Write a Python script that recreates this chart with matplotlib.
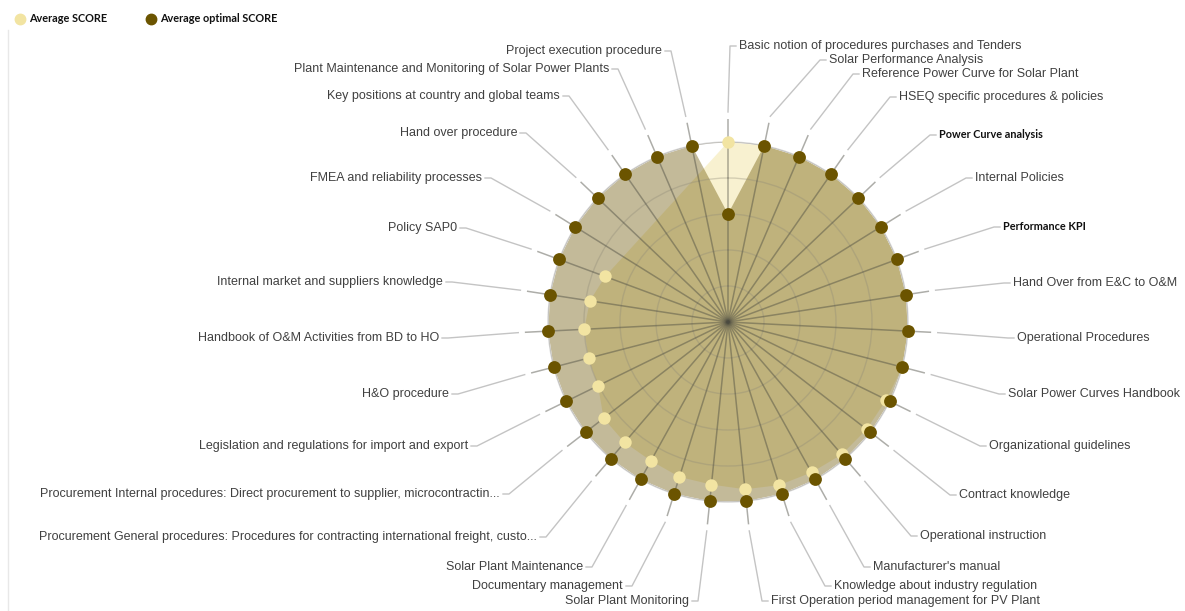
import numpy as np
import matplotlib
matplotlib.use("Agg")
import matplotlib.pyplot as plt
from matplotlib.lines import Line2D
from matplotlib.transforms import IdentityTransform

# ---------------- data ----------------
categories = [
    "Basic notion of procedures purchases and Tenders",
    "Solar Performance Analysis",
    "Reference Power Curve for Solar Plant",
    "HSEQ specific procedures & policies",
    "Power Curve analysis",
    "Internal Policies",
    "Performance KPI",
    "Hand Over from E&C to O&M",
    "Operational Procedures",
    "Solar Power Curves Handbook",
    "Organizational guidelines",
    "Contract knowledge",
    "Operational instruction",
    "Manufacturer's manual",
    "Knowledge about industry regulation",
    "First Operation period management for PV Plant",
    "Solar Plant Monitoring",
    "Documentary management",
    "Solar Plant Maintenance",
    "Procurement General procedures: Procedures for contracting international freight, custo...",
    "Procurement Internal procedures: Direct procurement to supplier, microcontractin...",
    "Legislation and regulations for import and export",
    "H&O procedure",
    "Handbook of O&M Activities from BD to HO",
    "Internal market and suppliers knowledge",
    "Policy SAP0",
    "FMEA and reliability processes",
    "Hand over procedure",
    "Key positions at country and global teams",
    "Plant Maintenance and Monitoring of Solar Power Plants",
    "Project execution procedure",
]

avg_score = [5.0, 5.0, 5.0, 5.0, 5.0, 5.0, 5.0, 5.0, 5.0, 5.0,
             4.9, 4.87, 4.85, 4.78, 4.75, 4.67, 4.54, 4.51, 4.41, 4.41,
             4.37, 4.02, 4.0, 4.0, 3.88, 3.64, None, None, None, None, None]
avg_optimal = [3.0, 5.0, 5.0, 5.0, 5.0, 5.0, 5.0, 5.0, 5.0, 5.0,
               5.0, 5.0, 5.0, 5.0, 5.0, 5.0, 5.0, 5.0, 5.0, 5.0,
               5.0, 5.0, 5.0, 5.0, 5.0, 5.0, 5.0, 5.0, 5.0, 5.0, 5.0]
series_names = ["Average SCORE", "Average optimal SCORE"]
bold_labels = ["Power Curve analysis", "Performance KPI"]

# ---------------- layout (pixels) ----------------
W, H = 1185, 611
CX, CY, R = 728, 322, 180
# label anchor: x (start for right side, end for left side), y centre (image coords)
label_pos = [
    (739, 46), (829, 60), (862, 74), (899, 97), (939, 135), (975, 178),
    (1003, 227), (1013, 283), (1017, 338), (1008, 394), (989, 446),
    (959, 495), (920, 536), (873, 567), (834, 586), (771, 601),
    (689, 601), (623, 586), (583, 567), (537, 537), (500, 494),
    (468, 446), (449, 394), (439, 338), (443, 282), (457, 228),
    (482, 178), (517, 133), (560, 96), (609, 69), (662, 51),
]

LIGHT = "#F2E4A2"
DARK = "#6B5400"
TXT = "#404040"

fig = plt.figure(figsize=(W / 100, H / 100), dpi=100)
fig.patch.set_facecolor("white")

ax = fig.add_axes([(CX - R) / W, (H - CY - R) / H, 2 * R / W, 2 * R / H],
                  projection="polar")
ax.set_theta_zero_location("N")
ax.set_theta_direction(-1)
ax.set_ylim(0, 5)
ax.set_facecolor("none")

n = len(categories)
theta = np.arange(n) * 2 * np.pi / n

ax.set_xticks(theta)
ax.set_xticklabels([])
ax.xaxis.grid(False)
ax.set_yticks([1, 2, 3, 4, 5])
ax.set_yticklabels([])
ax.yaxis.grid(True, color="#8f8a78", alpha=0.35, lw=1.0)
ax.set_axisbelow(False)
ax.spines["polar"].set_color("#d6d6d6")
ax.spines["polar"].set_linewidth(1.0)

# light series (skip missing values)
th_l = [t for t, v in zip(theta, avg_score) if v is not None]
r_l = [v for v in avg_score if v is not None]
ax.fill(th_l + [th_l[0]], r_l + [r_l[0]], color=LIGHT, alpha=0.5, lw=0, zorder=1)
# optimal series
ax.fill(list(theta) + [theta[0]], avg_optimal + [avg_optimal[0]],
        color=DARK, alpha=0.4, lw=0, zorder=1.2)

# spokes
for t in theta:
    ax.plot([t, t], [0, 5.65], color="#4a4a40", alpha=0.45, lw=1.1,
            clip_on=False, zorder=2.6, solid_capstyle="butt")

ax.scatter(th_l, r_l, s=80, color=LIGHT, zorder=5, clip_on=False, lw=0)
ax.scatter(theta, avg_optimal, s=85, color=DARK, zorder=6, clip_on=False, lw=0)

# labels with leader lines
to_disp = ax.transData
for i, (name, (lx, ly)) in enumerate(zip(categories, label_pos)):
    right = i <= 15
    px, py = to_disp.transform((theta[i], 5.0 * 210 / 180))
    yb = H - ly
    if right:
        ex, hx = lx - 9, lx - 3
    else:
        ex, hx = lx + 9, lx + 3
    fig.add_artist(Line2D([px, ex, hx], [py, yb, yb], color="#c4c4c4",
                          lw=1.0, transform=IdentityTransform()))
    if name in bold_labels:
        fig.text(lx / W, yb / H, name, ha="left" if right else "right",
                 va="center", fontsize=7.8, fontweight="bold",
                 family="Lato", color="#111111")
    else:
        fig.text(lx / W, yb / H, name, ha="left" if right else "right",
                 va="center", fontsize=9, family="Liberation Sans", color=TXT)

# left border line
fig.add_artist(Line2D([8, 8], [0, H - 30], color="#e8e8e8", lw=1.0,
                      transform=IdentityTransform()))

# legend
handles = [Line2D([], [], ls="none", marker="o", ms=7.5, color=LIGHT),
           Line2D([], [], ls="none", marker="o", ms=7.5, color=DARK)]
fig.legend(handles, series_names, loc="upper left",
           bbox_to_anchor=(12 / W, 1 - 9 / H), ncol=2, frameon=False,
           handlelength=0.6, handletextpad=0.53, columnspacing=3.75,
           prop={"family": "Lato", "weight": "bold", "size": 7.8},
           labelcolor="#111111", borderaxespad=0)

fig.savefig("out.png", dpi=100)
